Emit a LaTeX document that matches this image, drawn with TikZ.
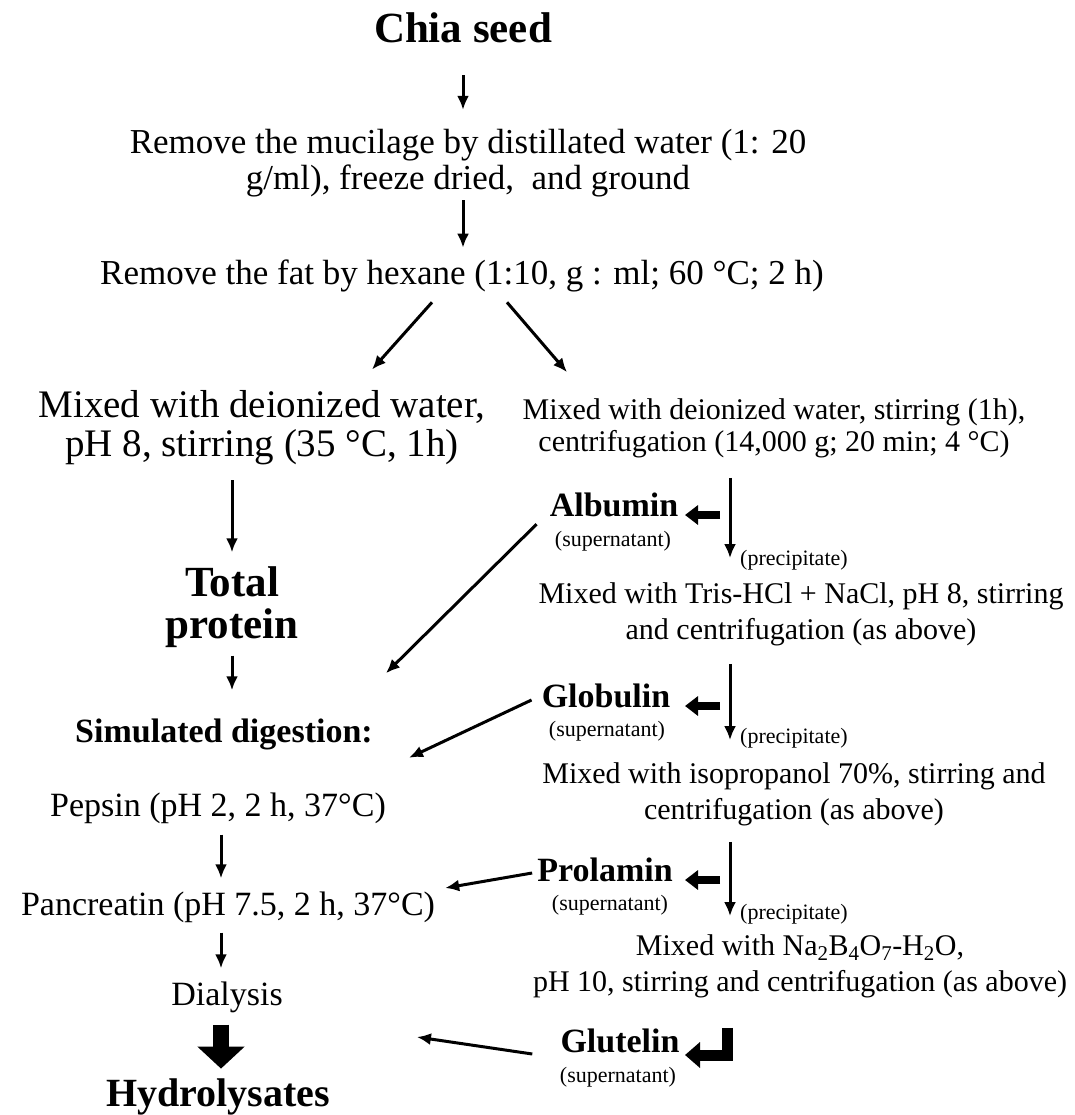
\documentclass[tikz,border=0pt]{standalone}
\usepackage{fontspec}
\setmainfont{Liberation Serif}
\usetikzlibrary{arrows.meta,calc}

\begin{document}
\begin{tikzpicture}[x=1pt,y=-1pt,
	every node/.style={inner sep=0pt,align=center},
	title/.style={font=\fontsize{43}{42}\selectfont\bfseries},
	txt/.style={font=\fontsize{35}{36}\selectfont},
	ptxt/.style={font=\fontsize{34}{36}\selectfont},
	ltxt/.style={font=\fontsize{39}{39}\selectfont},
	rtxt/.style={font=\fontsize{30}{32}\selectfont},
	ftxt/.style={font=\fontsize{30}{36}\selectfont},
	frac/.style={font=\fontsize{34}{36}\selectfont\bfseries},
	supn/.style={font=\fontsize{22}{24}\selectfont},
	link/.style={line width=3pt,-{Latex[length=14pt,width=12pt]}},
	fat/.style={line width=8pt,-{Triangle[length=13pt,width=19pt]}},
	block/.style={line width=16pt,-{Triangle[length=22pt,width=46pt]}}]
	\useasboundingbox (0,0) rectangle (1074,1115);
	\coordinate (col) at (730,0);
	\coordinate (lc) at (221,0);
	\node[title] (chia) at (463,28) {Chia seed};
	\node[txt] (muc) at (468,163) {Remove the mucilage by distillated water (1: 20\\g/ml), freeze dried,\ \ and ground};
	\node[txt] (fat) at (462,276) {Remove the fat by hexane (1:10, g : ml; 60 °C; 2 h)};
	\node[ltxt] (lmix) at (262,428) {Mixed with deionized water,\\pH 8, stirring (35 °C, 1h)};
	\node[rtxt] (rmix) at (774,428) {Mixed with deionized water, stirring (1h),\\centrifugation (14,000 g; 20 min; 4 °C)};
	\node[title] (tot) at (232,607) {Total\\protein};
	\node[frac] (sim) at (224,734) {Simulated digestion:};
	\node[ptxt] (pep) at (218,808) {Pepsin (pH 2, 2 h, 37°C)};
	\node[ptxt] (pan) at (228,907) {Pancreatin (pH 7.5, 2 h, 37°C)};
	\node[ptxt] (dia) at (227,997) {Dialysis};
	\node[title,font=\fontsize{40}{40}\selectfont\bfseries] (hyd) at (218,1097) {Hydrolysates};
	\node[frac] (alb) at (614,505) {Albumin};
	\node[supn] (s1) at (613,541) {(supernatant)};
	\node[ftxt] (tris) at (801,614) {Mixed with Tris-HCl + NaCl, pH 8, stirring\\and centrifugation (as above)};
	\node[frac] (glob) at (606,696) {Globulin};
	\node[supn] (s2) at (607,731) {(supernatant)};
	\node[ftxt] (iso) at (794,794) {Mixed with isopropanol 70\%, stirring and\\centrifugation (as above)};
	\node[frac] (pro) at (605,870) {Prolamin};
	\node[supn] (s3) at (610,905) {(supernatant)};
	\node[ftxt] (na) at (800,966) {Mixed with Na\textsubscript{2}B\textsubscript{4}O\textsubscript{7}-H\textsubscript{2}O,\\pH 10, stirring and centrifugation (as above)};
	\node[frac] (glu) at (620,1041) {Glutelin};
	\node[supn] (s4) at (618,1077) {(supernatant)};
	\node[supn,anchor=west] (p1) at (740,560) {(precipitate)};
	\node[supn,anchor=west] (p2) at (740,738) {(precipitate)};
	\node[supn,anchor=west] (p3) at (740,914) {(precipitate)};
	\draw[link,shorten <=32pt,shorten >=19pt] (chia.south) -- (chia.south |- muc.north);
	\draw[link,shorten <=3pt,shorten >=12pt] (muc.south -| chia) -- (chia |- fat.north);
	\draw[link] ($(fat.south)+(-30,10)$) -- ($(lmix.north)+(110,-21)$);
	\draw[link] ($(fat.south)+(45,10)$) -- ($(rmix.north)+(-207,-26)$);
	\draw[link,shorten <=15pt,shorten >=14pt] (lmix.south -| tot) -- (tot.north);
	\draw[link,shorten <=8pt,shorten >=28pt] (tot.south) -- (tot.south |- sim.north);
	\draw[link,shorten <=11pt,shorten >=13pt] (pep.south -| lc) -- (pan.north -| lc);
	\draw[link,shorten <=10pt,shorten >=13pt] (pan.south -| lc) -- (dia.north -| lc);
	\draw[block,shorten <=12pt,shorten >=10pt] (dia.south -| lc) -- (hyd.north -| lc);
	\draw[link] ($(rmix.south -| col)+(0,20)$) -- ($(tris.north -| col)+(0,-24)$);
	\draw[link] ($(tris.south -| col)+(0,18)$) -- ($(iso.north -| col)+(0,-22)$);
	\draw[link] ($(iso.south -| col)+(0,16)$) -- ($(na.north -| col)+(0,-18)$);
	\draw[fat] ($(alb.east -| col)+(-10,10)$) -- ($(alb.east -| col)+(-45,10)$);
	\draw[fat] ($(glob.east -| col)+(-10,10)$) -- ($(glob.east -| col)+(-45,10)$);
	\draw[fat] ($(pro.east -| col)+(-10,10)$) -- ($(pro.east -| col)+(-45,10)$);
	\draw[fat,line width=11pt,-{Triangle[length=15pt,width=25pt]}] ($(na.south -| col)+(-2.5,30)$) |- ($(glu.east -| col)+(-45,14)$);
	\draw[link] ($(alb.south west)+(-13,7)$) -- ($(sim.north east)+(13,-45)$);
	\draw[link] ($(glob.west)+(-10,4)$) -- ($(sim.south east)+(36,8)$);
	\draw[link] ($(pro.west)+(-5,3)$) -- ($(pan.east)+(10,-19)$);
	\draw[link] ($(glu.west)+(-28,13)$) -- ($(dia.east)+(134,40)$);
\end{tikzpicture}
\end{document}
